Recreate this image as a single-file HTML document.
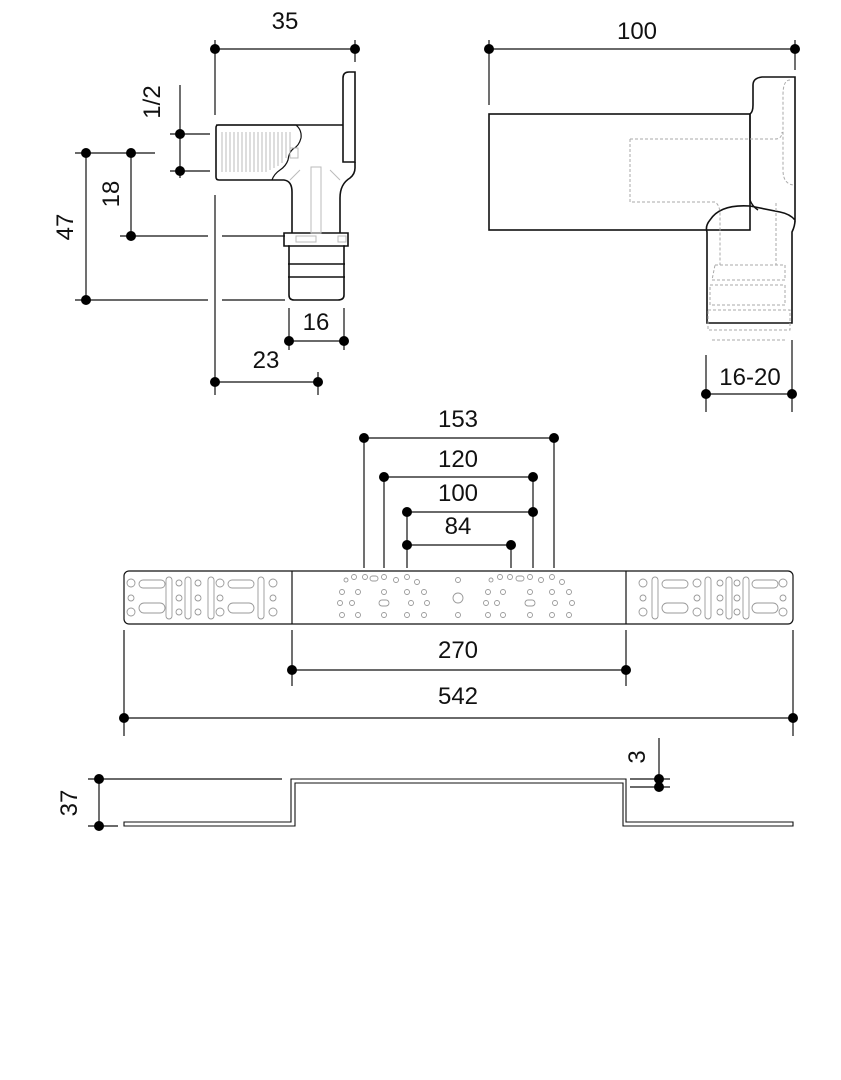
<!DOCTYPE html>
<html><head><meta charset="utf-8"><style>
html,body{margin:0;padding:0;background:#fff}
svg{display:block}
text{font-family:"Liberation Sans",sans-serif;font-size:24px;fill:#111;text-anchor:middle}
</style></head><body>
<svg width="841" height="1080" viewBox="0 0 841 1080" xmlns="http://www.w3.org/2000/svg">
<g stroke="#111" stroke-width="1.2" fill="none">
<!-- left fitting dims -->
<line x1="215" y1="49" x2="355" y2="49"/><line x1="215" y1="40" x2="215" y2="115"/><line x1="355" y1="40" x2="355" y2="62"/>
<line x1="215" y1="195" x2="215" y2="395"/>
<line x1="180" y1="85" x2="180" y2="178"/><line x1="170" y1="134" x2="210" y2="134"/><line x1="170" y1="171" x2="210" y2="171"/>
<line x1="75" y1="153" x2="155" y2="153"/>
<line x1="131" y1="153" x2="131" y2="236"/><line x1="120" y1="236" x2="208" y2="236"/><line x1="222" y1="236" x2="285" y2="236"/>
<line x1="86" y1="153" x2="86" y2="300"/><line x1="75" y1="300" x2="208" y2="300"/><line x1="222" y1="300" x2="285" y2="300"/>
<line x1="289" y1="308" x2="289" y2="350"/><line x1="344" y1="308" x2="344" y2="350"/><line x1="289" y1="341" x2="344" y2="341"/>
<line x1="215" y1="382" x2="318" y2="382"/><line x1="318" y1="372" x2="318" y2="395"/>
<!-- left fitting body -->
<path d="M343 125 H218 Q216 125 216 128 V177 Q216 180 219 180 H284 Q292 181 292 192 V233 M340 233 V198 Q340 184 350 178 Q355 174 355 168 V162" stroke-width="1.6"/>
<path d="M343 162 V78 Q343 72 349 72 H355 V162 Z" stroke-width="1.6"/>
<path d="M216 125 H296 Q302 130 301 138 Q299 146 293 149 Q289 152 288 160 Q286 166 280 170 Q274 174 272 180" stroke-width="1.2"/>
<path d="M284 233 H348 V246 H344 V295 Q344 300 338 300 H294 Q289 300 289 295 V246 H284 Z" stroke-width="1.6"/>
<line x1="288" y1="264" x2="345" y2="264" stroke-width="1.6"/><line x1="288" y1="277" x2="345" y2="277" stroke-width="1.6"/>
<line x1="288" y1="246" x2="345" y2="246" stroke-width="1.6"/>
<g stroke="#bbb" stroke-width="1"><rect x="311" y="167" width="10" height="66"/><rect x="296" y="236" width="20" height="6"/><rect x="338" y="236" width="8" height="6"/><rect x="290" y="148" width="8" height="10"/>
<path d="M300 170 L290 180 M330 170 L340 180"/>
<path d="M222 132 V172 M226 132 V172 M230 132 V172 M234 132 V172 M238 132 V172 M242 132 V172 M246 132 V172 M250 132 V172 M254 132 V172 M258 132 V172 M262 132 V172 M266 132 V172 M270 132 V170 M274 132 V168 M278 132 V166 M282 132 V163 M286 132 V158 M290 132 V150"/></g>
<!-- right fitting -->
<line x1="489" y1="49" x2="795" y2="49"/><line x1="489" y1="40" x2="489" y2="105"/><line x1="795" y1="40" x2="795" y2="70"/>
<rect x="489" y="114" width="261" height="116" stroke-width="1.6"/>
<path d="M750 114 Q753 112 753 105 V85 Q753 78 762 77 H795 V220 Q790 214 780 212 Q760 208 750 206 Q720 204 710 220 Q705 226 707 232 V323 H792 V232 Q795 226 795 220" stroke-width="1.6"/>
<path d="M750 114 V200 Q752 206 758 210" stroke-width="1.4"/>
<g stroke="#aaa" stroke-dasharray="3,2" stroke-width="1"><path d="M630 139 H775 Q782 139 782 132 M630 139 V202 H715 Q720 205 720 215 V265 M776 203 V265 M790 80 Q783 80 783 95 V170 Q783 185 795 185 M715 265 H785 V280 H712 Z M710 285 H785 V305 H710 Z M708 310 H790 V330 H708 Z M712 340 H785"/></g>
<line x1="706" y1="355" x2="706" y2="412"/><line x1="792" y1="340" x2="792" y2="412"/><line x1="706" y1="394" x2="792" y2="394"/>
<!-- plate dims -->
<line x1="364" y1="438" x2="554" y2="438"/><line x1="384" y1="477" x2="533" y2="477"/><line x1="407" y1="512" x2="533" y2="512"/><line x1="407" y1="545" x2="511" y2="545"/>
<line x1="364" y1="438" x2="364" y2="568"/><line x1="554" y1="438" x2="554" y2="568"/><line x1="384" y1="477" x2="384" y2="568"/><line x1="533" y1="477" x2="533" y2="568"/><line x1="407" y1="512" x2="407" y2="568"/><line x1="511" y1="545" x2="511" y2="568"/>
<rect x="124" y="571" width="669" height="53" rx="5" stroke-width="1.2"/>
<line x1="292" y1="571" x2="292" y2="624"/><line x1="626" y1="571" x2="626" y2="624"/>
<line x1="292" y1="630" x2="292" y2="686"/><line x1="626" y1="630" x2="626" y2="686"/><line x1="292" y1="670" x2="626" y2="670"/>
<line x1="124" y1="630" x2="124" y2="736"/><line x1="793" y1="630" x2="793" y2="736"/><line x1="124" y1="718" x2="793" y2="718"/>
<g stroke="#999" stroke-width="0.9">
<circle cx="131" cy="583" r="4"/><circle cx="131" cy="598" r="3"/><circle cx="131" cy="612" r="4"/>
<rect x="139" y="580" width="26" height="8" rx="4"/><rect x="139" y="603" width="26" height="10" rx="5"/>
<rect x="166" y="577" width="6" height="42" rx="3"/><circle cx="179" cy="583" r="3"/><circle cx="179" cy="598" r="3"/><circle cx="179" cy="612" r="3"/>
<rect x="185" y="577" width="6" height="42" rx="3"/><circle cx="198" cy="583" r="3"/><circle cx="198" cy="598" r="3"/><circle cx="198" cy="612" r="3"/>
<rect x="208" y="577" width="6" height="42" rx="3"/><circle cx="220" cy="583" r="4"/><circle cx="220" cy="598" r="3"/><circle cx="220" cy="612" r="4"/>
<rect x="228" y="580" width="26" height="8" rx="4"/><rect x="228" y="603" width="26" height="10" rx="5"/>
<rect x="258" y="577" width="6" height="42" rx="3"/><circle cx="273" cy="583" r="4"/><circle cx="273" cy="598" r="3"/><circle cx="273" cy="612" r="4"/>
<circle cx="643" cy="583" r="4"/><circle cx="643" cy="598" r="3"/><circle cx="643" cy="612" r="4"/>
<rect x="652" y="577" width="6" height="42" rx="3"/><rect x="662" y="580" width="26" height="8" rx="4"/><rect x="662" y="603" width="26" height="10" rx="5"/>
<circle cx="697" cy="583" r="4"/><circle cx="697" cy="598" r="3"/><circle cx="697" cy="612" r="4"/><rect x="705" y="577" width="6" height="42" rx="3"/>
<circle cx="720" cy="583" r="3"/><circle cx="720" cy="598" r="3"/><circle cx="720" cy="612" r="3"/><rect x="726" y="577" width="6" height="42" rx="3"/>
<circle cx="737" cy="583" r="3"/><circle cx="737" cy="598" r="3"/><circle cx="737" cy="612" r="3"/><rect x="743" y="577" width="6" height="42" rx="3"/>
<rect x="752" y="580" width="26" height="8" rx="4"/><rect x="752" y="603" width="26" height="10" rx="5"/>
<circle cx="783" cy="583" r="4"/><circle cx="783" cy="598" r="3"/><circle cx="783" cy="612" r="4"/>
<circle cx="458" cy="598" r="5"/><circle cx="458" cy="580" r="2.5"/><circle cx="458" cy="615" r="2.5"/>
<circle cx="346" cy="580" r="2"/><circle cx="354" cy="577" r="2.5"/><circle cx="365" cy="577" r="2.5"/><rect x="370" y="576" width="8" height="5" rx="2.5"/><circle cx="384" cy="577" r="2.5"/><circle cx="396" cy="580" r="2.5"/><circle cx="407" cy="577" r="2.5"/><circle cx="417" cy="582" r="2.5"/>
<circle cx="342" cy="592" r="2.5"/><circle cx="358" cy="592" r="2.5"/><circle cx="384" cy="592" r="2.5"/><circle cx="407" cy="592" r="2.5"/><circle cx="424" cy="592" r="2.5"/>
<circle cx="340" cy="603" r="2.5"/><circle cx="352" cy="603" r="2.5"/><rect x="379" y="600" width="10" height="6" rx="3"/><circle cx="411" cy="603" r="2.5"/><circle cx="427" cy="603" r="2.5"/>
<circle cx="342" cy="615" r="2.5"/><circle cx="358" cy="615" r="2.5"/><circle cx="384" cy="615" r="2.5"/><circle cx="407" cy="615" r="2.5"/><circle cx="424" cy="615" r="2.5"/>
<circle cx="491" cy="580" r="2"/><circle cx="500" cy="577" r="2.5"/><circle cx="510" cy="577" r="2.5"/><rect x="516" y="576" width="8" height="5" rx="2.5"/><circle cx="530" cy="577" r="2.5"/><circle cx="541" cy="580" r="2.5"/><circle cx="552" cy="577" r="2.5"/><circle cx="562" cy="582" r="2.5"/>
<circle cx="488" cy="592" r="2.5"/><circle cx="503" cy="592" r="2.5"/><circle cx="530" cy="592" r="2.5"/><circle cx="552" cy="592" r="2.5"/><circle cx="569" cy="592" r="2.5"/>
<circle cx="486" cy="603" r="2.5"/><circle cx="497" cy="603" r="2.5"/><rect x="525" y="600" width="10" height="6" rx="3"/><circle cx="555" cy="603" r="2.5"/><circle cx="572" cy="603" r="2.5"/>
<circle cx="488" cy="615" r="2.5"/><circle cx="503" cy="615" r="2.5"/><circle cx="530" cy="615" r="2.5"/><circle cx="552" cy="615" r="2.5"/><circle cx="569" cy="615" r="2.5"/>
</g>
<!-- profile -->
<path d="M124 826 H295 V783 H623 V826 H793 V822 H626 V779 H291 V822 H124 Z" stroke-width="1.1"/>
<line x1="88" y1="779" x2="282" y2="779"/><line x1="88" y1="826" x2="118" y2="826"/><line x1="99" y1="779" x2="99" y2="826"/>
<line x1="659" y1="738" x2="659" y2="790"/><line x1="630" y1="779" x2="670" y2="779"/><line x1="630" y1="787" x2="670" y2="787"/>
</g>
<g fill="#000">
<circle cx="215" cy="49" r="5"/><circle cx="355" cy="49" r="5"/>
<circle cx="180" cy="134" r="5"/><circle cx="180" cy="171" r="5"/>
<circle cx="131" cy="153" r="5"/><circle cx="131" cy="236" r="5"/>
<circle cx="86" cy="153" r="5"/><circle cx="86" cy="300" r="5"/>
<circle cx="289" cy="341" r="5"/><circle cx="344" cy="341" r="5"/>
<circle cx="215" cy="382" r="5"/><circle cx="318" cy="382" r="5"/>
<circle cx="489" cy="49" r="5"/><circle cx="795" cy="49" r="5"/>
<circle cx="706" cy="394" r="5"/><circle cx="792" cy="394" r="5"/>
<circle cx="364" cy="438" r="5"/><circle cx="554" cy="438" r="5"/>
<circle cx="384" cy="477" r="5"/><circle cx="533" cy="477" r="5"/>
<circle cx="407" cy="512" r="5"/><circle cx="533" cy="512" r="5"/>
<circle cx="407" cy="545" r="5"/><circle cx="511" cy="545" r="5"/>
<circle cx="292" cy="670" r="5"/><circle cx="626" cy="670" r="5"/>
<circle cx="124" cy="718" r="5"/><circle cx="793" cy="718" r="5"/>
<circle cx="99" cy="779" r="5"/><circle cx="99" cy="826" r="5"/>
<circle cx="659" cy="779" r="5"/><circle cx="659" cy="787" r="5"/>
</g>
<text x="285" y="29">35</text>
<text x="637" y="39">100</text>
<text transform="translate(160,102) rotate(-90)">1/2</text>
<text transform="translate(119,194) rotate(-90)">18</text>
<text transform="translate(73,227) rotate(-90)">47</text>
<text x="316" y="330">16</text>
<text x="266" y="368">23</text>
<text x="750" y="385">16-20</text>
<text x="458" y="427">153</text>
<text x="458" y="467">120</text>
<text x="458" y="501">100</text>
<text x="458" y="534">84</text>
<text x="458" y="658">270</text>
<text x="458" y="704">542</text>
<text transform="translate(77,803) rotate(-90)">37</text>
<text transform="translate(645,757) rotate(-90)">3</text>
</svg>
</body></html>
